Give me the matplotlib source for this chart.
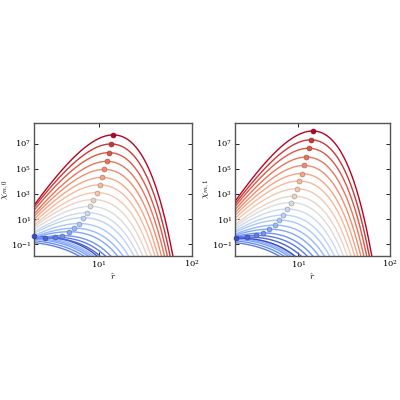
import numpy as np
import matplotlib
matplotlib.use('Agg')
from matplotlib import pyplot as plt
from matplotlib import ticker

plt.rcParams['mathtext.fontset'] = 'cm'
plt.rcParams['font.family'] = 'DejaVu Serif'

# peak positions / peak values (log10) per curve
# first five curves peak left of the visible range (no marker)
hidden_r = [1.0, 1.2, 1.4, 1.6, 1.8]
hidden_log = [-0.75, -0.65, -0.55, -0.5, -0.45]

peak_r_0 = [2.02, 2.68, 3.37, 4.04, 4.76, 5.42, 6.12, 6.81, 7.45, 8.07,
            8.77, 9.53, 10.2, 10.8, 11.5, 12.2, 12.8, 13.5, 14.3]
peak_log_0 = [-0.36, -0.49, -0.44, -0.31, 0.0, 0.28, 0.65, 1.11, 1.51, 2.01,
              2.55, 3.11, 3.72, 4.31, 4.95, 5.59, 6.28, 6.97, 7.69]

peak_r_1 = [2.05, 2.72, 3.42, 4.08, 4.77, 5.48, 6.14, 6.83, 7.52, 8.22,
            8.93, 9.53, 10.2, 10.8, 11.5, 12.2, 12.9, 13.6, 14.3]
peak_log_1 = [-0.50, -0.42, -0.29, -0.10, 0.20, 0.52, 0.92, 1.32, 1.80, 2.31,
              2.82, 3.41, 4.03, 4.62, 5.26, 5.93, 6.63, 7.30, 8.0]

steep = 0.82
r = np.logspace(np.log10(2.02), 2, 600)


def curve(rp, vp):
    k = steep * rp
    return vp * (r / rp) ** k * np.exp(k * (1 - r / rp))


def panel(ax, peak_r, peak_log, ylabel):
    cmap = plt.get_cmap('coolwarm')
    n = len(peak_r)
    for j, (rp, lv) in enumerate(zip(hidden_r, hidden_log)):
        c = cmap(0.12 + 0.04 * j)
        ax.plot(r, curve(rp, 10 ** lv), color=c, lw=1.0)
    for i, (rp, lv) in enumerate(zip(peak_r, peak_log)):
        c = cmap(i / (n - 1))
        ax.plot(r, curve(rp, 10 ** lv), color=c, lw=1.0)
        ax.plot(rp, 10 ** lv, 'o', ms=3.5, color=c,
                mec=tuple(0.75 * np.array(c[:3])), mew=0.5, clip_on=False, zorder=5)
    ax.set_xscale('log')
    ax.set_yscale('log')
    ax.set_xlim(2.02, 100)
    ax.set_ylim(10 ** -1.93, 10 ** 8.65)
    ax.xaxis.set_major_locator(ticker.FixedLocator([10, 100]))
    ax.xaxis.set_minor_locator(ticker.NullLocator())
    ax.yaxis.set_major_locator(ticker.FixedLocator([1e-1, 1e1, 1e3, 1e5, 1e7]))
    ax.yaxis.set_minor_locator(ticker.NullLocator())
    ax.tick_params(direction='in', length=3, width=0.6, labelsize=6, pad=2,
                   top=True, right=True)
    for s in ax.spines.values():
        s.set_color('#555555')
        s.set_linewidth(1.0)
    ax.set_xlabel(r'$\hat{r}$', fontsize=7, labelpad=1)
    ax.set_ylabel(ylabel, fontsize=7, labelpad=0)


fig = plt.figure(figsize=(4, 4), dpi=100)
ax0 = fig.add_axes([0.085, 0.36, 0.395, 0.333])
ax1 = fig.add_axes([0.5875, 0.36, 0.387, 0.333])
panel(ax0, peak_r_0, peak_log_0, r'$\chi_{m,0}$')
panel(ax1, peak_r_1, peak_log_1, r'$\chi_{m,1}$')
fig.savefig('out.png', dpi=100)
